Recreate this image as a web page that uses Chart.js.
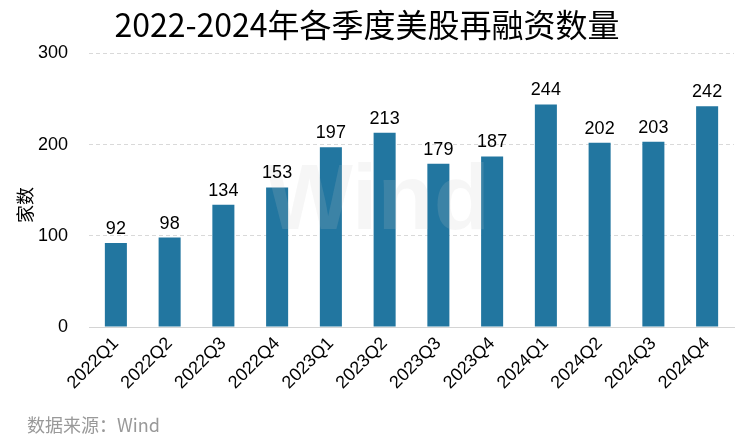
<!DOCTYPE html>
<html>
<head>
<meta charset="utf-8">
<script src="https://cdn.jsdelivr.net/npm/chart.js@4.4.1/dist/chart.umd.min.js"></script>
<style>
  html, body { margin: 0; padding: 0; background: #fff; }
  #wrap { width: 748px; height: 443px; position: relative; }
</style>
</head>
<body>
<div id="wrap"><canvas id="chart"></canvas></div>
<script>
// ====== DATA ======
const quarters = ['2022Q1', '2022Q2', '2022Q3', '2022Q4', '2023Q1', '2023Q2',
                  '2023Q3', '2023Q4', '2024Q1', '2024Q2', '2024Q3', '2024Q4'];
const counts = [92, 98, 134, 153, 197, 213, 179, 187, 244, 202, 203, 242];
const yTicks = [0, 100, 200, 300];

const barColor = '#2276a0';
const latin = 'Arial, "Liberation Sans", sans-serif';
const cjk = '"Noto Sans CJK SC", "Noto Sans", sans-serif';

// values above bars, y title, watermark and source line
const extras = {
    id: 'extras',
    afterDatasetsDraw(chart) {
        const ctx = chart.ctx;
        const meta = chart.getDatasetMeta(0);
        ctx.save();
        // faint watermark
        ctx.font = 'bold 92px ' + latin;
        ctx.fillStyle = 'rgba(200,200,200,0.16)';
        ctx.textAlign = 'center';
        ctx.textBaseline = 'middle';
        ctx.fillText('Wind', 378, 204);

        ctx.font = '18px ' + latin;
        ctx.fillStyle = '#000';
        ctx.textBaseline = 'alphabetic';
        meta.data.forEach((bar, i) => {
            ctx.fillText(String(counts[i]), bar.x, bar.y - 9);
        });

        // y axis title
        ctx.save();
        ctx.translate(25, 205);
        ctx.rotate(-Math.PI / 2);
        ctx.font = '18px ' + cjk;
        ctx.textBaseline = 'middle';
        ctx.fillText('家数', 0, 0);
        ctx.restore();

        ctx.font = '18px ' + cjk;
        ctx.fillStyle = '#999';
        ctx.textAlign = 'left';
        ctx.textBaseline = 'middle';
        ctx.fillText('数据来源：Wind', 27, 425);
        ctx.restore();
    }
};

new Chart(document.getElementById('chart'), {
    type: 'bar',
    data: {
        labels: quarters,
        datasets: [{ data: counts, backgroundColor: barColor, barPercentage: 0.82, categoryPercentage: 0.5 }]
    },
    options: {
        responsive: true,
        maintainAspectRatio: false,
        animation: false,
        layout: { padding: { left: 0, right: 14, top: 0, bottom: 36 } },
        plugins: {
            legend: { display: false },
            tooltip: { enabled: false },
            title: {
                display: true,
                text: '2022-2024年各季度美股再融资数量',
                color: '#000',
                font: { family: cjk, size: 32, weight: 'normal' },
                padding: { top: 6, bottom: 9 }
            }
        },
        scales: {
            x: {
                grid: { display: false, drawTicks: false },
                border: { display: true, color: '#d4d4d4', width: 1 },
                ticks: {
                    color: '#000',
                    font: { family: latin, size: 18 },
                    minRotation: 45, maxRotation: 45,
                    padding: 6
                },
                afterFit(scale) { scale.height = 80; }
            },
            y: {
                min: 0, max: 300,
                afterBuildTicks(scale) { scale.ticks = yTicks.map(v => ({ value: v })); },
                grid: {
                    drawTicks: false,
                    color: ctx => ctx.tick && ctx.tick.value === 0 ? 'rgba(0,0,0,0)' : '#d9d9d9',
                    lineWidth: 1
                },
                border: { display: false, dash: [4, 3] },
                ticks: { color: '#000', font: { family: latin, size: 18 }, padding: 21 },
                afterFit(scale) { scale.width = 89; }
            }
        }
    },
    plugins: [extras]
});
</script>
</body>
</html>
